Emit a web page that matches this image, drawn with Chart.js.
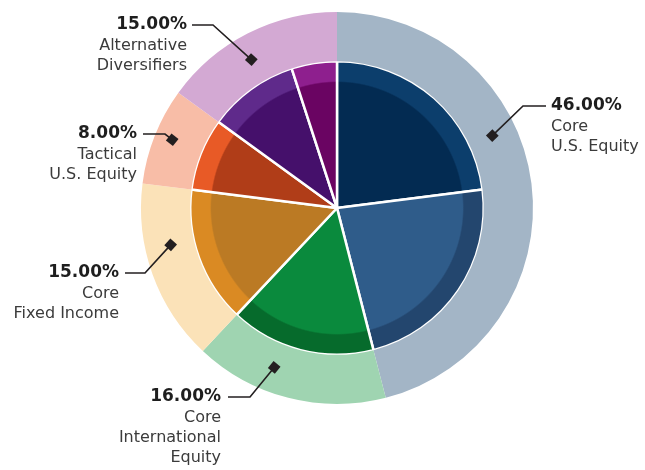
<!DOCTYPE html>
<html>
<head>
<meta charset="utf-8">
<script src="https://cdn.jsdelivr.net/npm/chart.js@4.4.0/dist/chart.umd.min.js"></script>
<style>
body{margin:0;background:#fff;}
#wrap{width:645px;height:470px;position:relative;}
</style>
</head>
<body>
<div id="wrap"><canvas id="myChart"></canvas></div>
<script>
// outer ring - asset classes
const classNames = ['Core U.S. Equity', 'Core International Equity', 'Core Fixed Income', 'Tactical U.S. Equity', 'Alternative Diversifiers'];
const classWeights = [46, 16, 15, 8, 15];
const classPct = ['46.00%', '16.00%', '15.00%', '8.00%', '15.00%'];
const classLines = [['Core', 'U.S. Equity'], ['Core', 'International', 'Equity'], ['Core', 'Fixed Income'], ['Tactical', 'U.S. Equity'], ['Alternative', 'Diversifiers']];

// inner pie - holdings
const holdings = ['U.S. Equity A', 'U.S. Equity B', 'International Equity', 'Fixed Income', 'Tactical Equity', 'Alternatives A', 'Alternatives B'];
const holdingWeights = [23, 23, 16, 15, 8, 10, 5];

// colours
const outerColors = ['#a3b5c6', '#9fd4b1', '#fbe2b8', '#f8bda7', '#d3a9d3'];
const coreColors = ['#032b52', '#2f5c8a', '#0a8a3d', '#bb7a24', '#b03d18', '#45106b', '#6a0462'];
const bandColors = ['#0c3e6c', '#23466e', '#066b2c', '#da8a23', '#e85a26', '#5f2a8b', '#8e1f8e'];

// callout placement: diamond angle (deg clockwise from top), radial shift, text anchor, elbow
const callouts = [
  {angle: 65, shift: 0, x: 551, y: 106, align: 'left', lineX: 546, elbowX: 523},
  {angle: 201.5, shift: 0, x: 221, y: 397, align: 'right', lineX: 228, elbowX: 250},
  {angle: 257.5, shift: -1, x: 119, y: 273, align: 'right', lineX: 125, elbowX: 145},
  {angle: 292.5, shift: 7, x: 137, y: 134, align: 'right', lineX: 143, elbowX: 165},
  {angle: 330, shift: 0, x: 187, y: 25, align: 'right', lineX: 192, elbowX: 213}
];

function innerFill(ctx) {
  const i = ctx.dataIndex;
  const c = ctx.chart.getDatasetMeta(ctx.datasetIndex).controller;
  const area = ctx.chart.chartArea;
  if (!area || !c.outerRadius) return coreColors[i];
  const cx = (area.left + area.right) / 2 + (c.offsetX || 0);
  const cy = (area.top + area.bottom) / 2 + (c.offsetY || 0);
  const R = c.outerRadius;
  const g = ctx.chart.ctx.createRadialGradient(cx, cy, 0, cx, cy, R);
  g.addColorStop(0, coreColors[i]);
  g.addColorStop(0.855, coreColors[i]);
  g.addColorStop(0.865, bandColors[i]);
  g.addColorStop(1, bandColors[i]);
  return g;
}

const calloutPlugin = {
  id: 'callouts',
  afterDraw(chart) {
    const ctx = chart.ctx;
    const meta = chart.getDatasetMeta(0);
    const arc = meta.data[0];
    const cx = arc.x, cy = arc.y;
    const rMid = (arc.outerRadius + arc.innerRadius) / 2;
    ctx.save();
    callouts.forEach((co, i) => {
      const a = (co.angle - 90) * Math.PI / 180;
      const dx = cx + Math.cos(a) * (rMid + co.shift);
      const dy = cy + Math.sin(a) * (rMid + co.shift);
      // leader line
      ctx.strokeStyle = '#231f20';
      ctx.lineWidth = 1.6;
      ctx.beginPath();
      ctx.moveTo(co.lineX, co.y);
      ctx.lineTo(co.elbowX, co.y);
      ctx.lineTo(dx, dy);
      ctx.stroke();
      // diamond marker
      const ang = Math.atan2(dy - co.y, dx - co.elbowX);
      ctx.save();
      ctx.translate(dx, dy);
      ctx.rotate(ang);
      ctx.fillStyle = '#231f20';
      ctx.fillRect(-4.5, -4.5, 9, 9);
      ctx.restore();
      // text
      ctx.textAlign = co.align;
      ctx.textBaseline = 'middle';
      ctx.fillStyle = '#1e1e1e';
      ctx.font = 'bold 17px "DejaVu Sans"';
      ctx.fillText(classPct[i], co.x, co.y);
      ctx.fillStyle = '#3b3b3b';
      ctx.font = '16px "DejaVu Sans"';
      classLines[i].forEach((t, k) => {
        ctx.fillText(t, co.x, co.y + 21 + k * 20);
      });
    });
    ctx.restore();
  }
};

const chart = new Chart(document.getElementById('myChart'), {
  type: 'pie',
  data: {
    labels: holdings,
    datasets: [{
      label: 'Asset class',
      data: classWeights,
      backgroundColor: outerColors,
      borderWidth: 0,
      weight: 49
    }, {
      label: 'Holdings',
      data: holdingWeights,
      backgroundColor: innerFill,
      borderColor: '#ffffff',
      borderWidth: 2.5,
      weight: 146
    }]
  },
  options: {
    responsive: true,
    maintainAspectRatio: false,
    animation: false,
    layout: {padding: {top: 12, bottom: 66, left: 141, right: 112}},
    plugins: {
      legend: {display: false},
      tooltip: {enabled: false}
    }
  },
  plugins: [calloutPlugin]
});
</script>
</body>
</html>
